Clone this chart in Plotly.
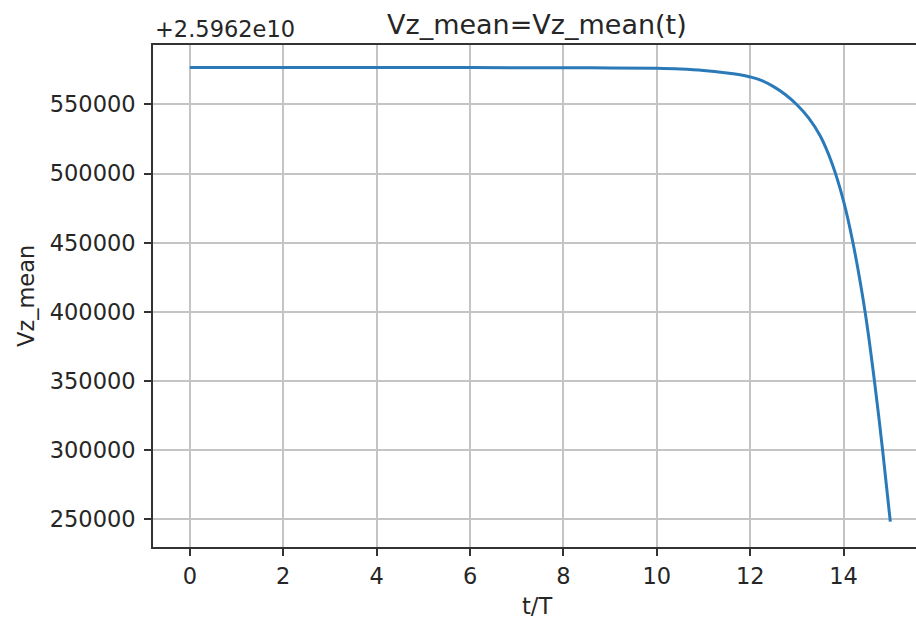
import plotly.graph_objects as go

# Data (values shown relative to the +2.5962e10 offset)
t_over_T = [0, 2, 4, 6, 8, 9, 10, 10.5, 11, 11.5, 11.75, 12, 12.25, 12.5,
            12.75, 13, 13.25, 13.5, 13.75, 14, 14.2, 14.46, 14.66, 14.835, 15]
vz_mean = [576800, 576800, 576750, 576700, 576550, 576400, 576100, 575600,
           574600, 572800, 571600, 569900, 567300, 562900,
           557200, 549800, 540300, 527200, 507500, 480000, 450000, 400000,
           350000, 300000, 248300]
offset_label = "+2.5962e10"
title_text = "Vz_mean=Vz_mean(t)"
x_label = "t/T"
y_label = "Vz_mean"
x_ticks = [0, 2, 4, 6, 8, 10, 12, 14]
y_ticks = [250000, 300000, 350000, 400000, 450000, 500000, 550000]

W, H = 916, 619
L, R, T, B = 153, 0, 45, 72
FONT = "DejaVu Sans"
TXT = "#262626"

fig = go.Figure()
fig.add_trace(go.Scatter(
    x=t_over_T, y=vz_mean, mode="lines",
    line=dict(color="#2a7ab9", width=3, shape="spline", smoothing=1.1),
    showlegend=False, hoverinfo="skip"))

axis_common = dict(
    showgrid=True, gridcolor="#c4c4c4", gridwidth=1.6,
    showline=True, linecolor="#333333", linewidth=1.7,
    ticks="outside", ticklen=7, tickwidth=1.6, tickcolor="#333333",
    tickfont=dict(family=FONT, size=22.5, color=TXT),
    zeroline=False,
)

fig.update_xaxes(range=[-0.79, 15.55], tickvals=x_ticks,
                 ticktext=[str(v) for v in x_ticks], mirror=True,
                 ticklabelstandoff=1, **axis_common)
fig.update_yaxes(range=[230000, 593000], tickvals=y_ticks,
                 ticktext=[str(v) for v in y_ticks], mirror=False,
                 ticklabelstandoff=4, **axis_common)

cx = (537 - L) / (W - L - R)
fig.update_layout(
    width=W, height=H,
    margin=dict(l=L, r=R, t=T, b=B, pad=0),
    paper_bgcolor="white", plot_bgcolor="white",
    font=dict(family=FONT, color=TXT),
    annotations=[
        dict(text=title_text, xref="paper", yref="paper", x=cx, y=1,
             yshift=3, xanchor="center", yanchor="bottom", showarrow=False,
             font=dict(family=FONT, size=27, color=TXT)),
        dict(text=offset_label, xref="paper", yref="paper", x=0, y=1,
             yshift=1, xanchor="left", yanchor="bottom", showarrow=False,
             font=dict(family=FONT, size=22.5, color=TXT)),
        dict(text=x_label, xref="paper", yref="paper", x=cx, y=0,
             yshift=-44, xanchor="center", yanchor="top", showarrow=False,
             font=dict(family=FONT, size=22.5, color=TXT)),
        dict(text=y_label, xref="paper", yref="paper", x=0, y=0.5,
             xshift=-142, xanchor="left", yanchor="middle", textangle=-90,
             showarrow=False, font=dict(family=FONT, size=22.5, color=TXT)),
    ],
)

fig.write_html("out.html")
